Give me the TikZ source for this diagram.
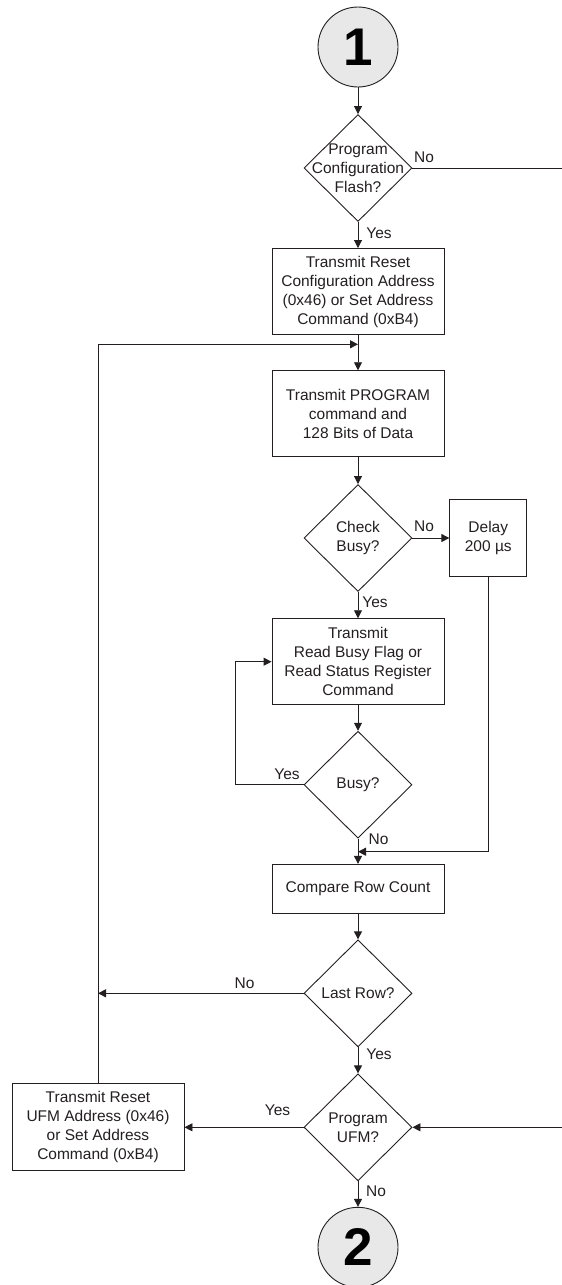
\documentclass[tikz,border=0pt]{standalone}
\usepackage{fontspec}
\setmainfont{Liberation Sans}
\usetikzlibrary{arrows.meta, shapes.geometric}
\definecolor{ink}{HTML}{231F20}

\begin{document}
\begin{tikzpicture}[
        x=1pt, y=-1pt,
        font=\fontsize{15.5pt}{19pt}\selectfont,
        >={Triangle[length=8pt, width=8pt]},
        box/.style={rectangle, draw=ink, line width=0.9pt, minimum width=172pt, minimum height=86pt, inner sep=0pt, align=center, text=ink},
        decision/.style={diamond, draw=ink, line width=0.9pt, minimum width=108pt, minimum height=107pt, inner sep=0pt},
        dtext/.style={align=center, text=ink, inner sep=0pt},
        connector/.style={circle, draw=ink, line width=0.9pt, fill=gray!18, minimum size=80pt, inner sep=0pt, text=black, font=\fontsize{53pt}{53pt}\selectfont\bfseries},
        tag/.style={text=ink, inner sep=0pt},
        arrow/.style={->, draw=ink, line width=0.9pt},
        line/.style={draw=ink, line width=0.9pt}
    ]
    \useasboundingbox (0,0) rectangle (562,1285);

    \node[connector] (start) at (358,47) {1};
    \node[decision, label={[dtext]center:Program\\Configuration\\Flash?}] (cfgflash) at (358,168) {};
    \node[box] (resetcfg) at (358,291.5) {Transmit Reset\\Configuration Address\\(0x46) or Set Address\\Command (0xB4)};
    \node[box] (program) at (358,413.7) {Transmit PROGRAM\\command and\\128 Bits of Data};
    \node[decision, label={[dtext]center:Check\\Busy?}] (checkbusy) at (358,538) {};
    \node[box, minimum width=77pt, minimum height=77pt] (delay) at (488.3,538) {Delay\\200 \textmu s};
    \node[box] (readbusy) at (358,661.7) {Transmit\\Read Busy Flag or\\Read Status Register\\Command};
    \node[decision, label={[dtext]center:Busy?}] (busy) at (358,784.7) {};
    \node[box, minimum height=49pt] (compare) at (358,888.8) {Compare Row Count};
    \node[decision, label={[dtext]center:Last Row?}] (lastrow) at (358,993.3) {};
    \node[decision, label={[dtext]center:Program\\UFM?}] (progufm) at (358,1127.3) {};
    \node[box, minimum height=87pt] (resetufm) at (98,1127.3) {Transmit Reset\\UFM Address (0x46)\\or Set Address\\Command (0xB4)};
    \node[connector] (finish) at (358,1247.3) {2};

    % labels on the branches
    \node[tag] (noA) at (424,157) {No};
    \node[tag] (yesA) at (379,233) {Yes};
    \node[tag] (noB) at (424,526) {No};
    \node[tag] (yesB) at (375,602) {Yes};
    \node[tag] (yesC) at (287,774) {Yes};
    \node[tag] (noC) at (378.5,839) {No};
    \node[tag] (noD) at (244.5,983) {No};
    \node[tag] (yesD) at (379,1054) {Yes};
    \node[tag] (yesE) at (277.5,1110) {Yes};
    \node[tag] (noE) at (376,1191) {No};

    \coordinate (offA) at (562,168);
    \coordinate (offB) at (562,1127.3);
    \coordinate (join) at (358,344.3);
    \coordinate (merge) at (358,851.7);
    \coordinate (loop) at (235,661.7);
    \coordinate (back) at (98,993.3);

    \draw[arrow] (start) -- (cfgflash.north);
    \draw[line] (cfgflash.east) -- (offA);
    \draw[arrow] (cfgflash.south) -- (resetcfg.north);
    \draw[arrow] (resetcfg.south) -- (program.north);
    \draw[arrow] (resetufm.north) |- (join);
    \draw[arrow] (program.south) -- (checkbusy.north);
    \draw[arrow] (checkbusy.east) -- (delay.west);
    \draw[arrow] (checkbusy.south) -- (readbusy.north);
    \draw[arrow] (readbusy.south) -- (busy.north);
    \draw[arrow] (busy.west) -| (loop) -- (readbusy.west);
    \draw[arrow] (delay.south) |- (merge);
    \draw[arrow] (busy.south) -- (compare.north);
    \draw[arrow] (compare.south) -- (lastrow.north);
    \draw[arrow] (lastrow.west) -- (back);
    \draw[arrow] (lastrow.south) -- (progufm.north);
    \draw[arrow] (offB) -- (progufm.east);
    \draw[arrow] (progufm.west) -- (resetufm.east);
    \draw[arrow] (progufm.south) -- (finish);
\end{tikzpicture}
\end{document}
